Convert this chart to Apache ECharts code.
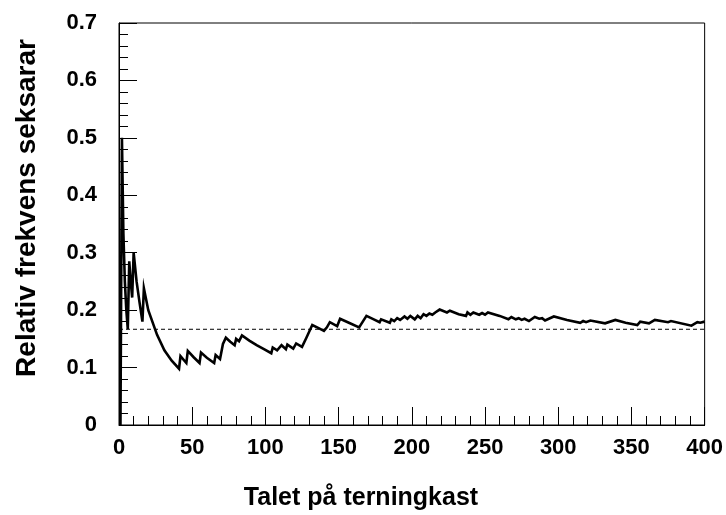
<!DOCTYPE html>
<html>
<head>
<meta charset="utf-8">
<script src="https://cdn.jsdelivr.net/npm/echarts@6/dist/echarts.min.js"></script>
<style>
  html, body { margin: 0; padding: 0; background: #fff; }
  #chart { width: 726px; height: 515px; }
</style>
</head>
<body>
<div id="chart"></div>
<script>
// Number of throws (x) and relative frequency of sixes (y)
var throws = [1, 2, 3, 4, 5, 6, 7, 8, 9, 10, 12, 14, 16, 17, 20, 26, 31, 36, 41, 42,
  46, 47, 51, 55, 56, 60, 65, 66, 69, 71, 73, 76, 79, 80, 82, 84, 89, 94, 99, 104,
  105, 108, 111, 114, 115, 119, 121, 125, 128, 132, 136, 140, 142, 143, 144, 149, 151, 157, 164, 169,
  174, 178, 179, 185, 186, 188, 190, 192, 195, 197, 199, 202, 204, 206, 208, 210, 212, 214, 216, 217,
  219, 224, 226, 232, 237, 238, 240, 242, 246, 248, 250, 252, 260, 266, 268, 271, 273, 275, 277, 280,
  284, 287, 289, 291, 297, 306, 315, 317, 319, 322, 332, 339, 346, 354, 356, 362, 366, 375, 377, 391,
  395, 397, 400];
var freq = [0, 0.5, 0.333, 0.25, 0.2, 0.167, 0.285, 0.25, 0.222, 0.3, 0.25, 0.214, 0.18, 0.238, 0.2, 0.157, 0.13, 0.112, 0.098, 0.12,
  0.108, 0.129, 0.118, 0.108, 0.126, 0.117, 0.108, 0.122, 0.115, 0.141, 0.152, 0.145, 0.139, 0.15, 0.146, 0.156, 0.147, 0.139, 0.132, 0.125,
  0.135, 0.13, 0.139, 0.132, 0.14, 0.133, 0.142, 0.136, 0.152, 0.174, 0.169, 0.164, 0.17, 0.167, 0.179, 0.172, 0.185, 0.178, 0.17, 0.19,
  0.184, 0.179, 0.184, 0.178, 0.184, 0.181, 0.186, 0.183, 0.189, 0.185, 0.19, 0.184, 0.19, 0.186, 0.193, 0.19, 0.194, 0.192, 0.196, 0.194,
  0.201, 0.196, 0.199, 0.193, 0.19, 0.196, 0.192, 0.196, 0.192, 0.195, 0.192, 0.196, 0.19, 0.184, 0.188, 0.184, 0.186, 0.183, 0.185, 0.181,
  0.188, 0.185, 0.186, 0.182, 0.189, 0.183, 0.178, 0.181, 0.179, 0.182, 0.177, 0.183, 0.178, 0.174, 0.18, 0.177, 0.183, 0.179, 0.181, 0.173,
  0.179, 0.178, 0.18];
// Reference level (probability of a six)
var refX = [0, 400];
var refY = [0.1667, 0.1667];

var xTicks = { min: 0, max: 400, step: 50 };
var yTicks = { min: 0, max: 0.7, step: 0.1 };

var xTitle = 'Talet på terningkast';
var yTitle = 'Relativ frekvens seksarar';

var FONT = '"Liberation Sans", Arial, Helvetica, sans-serif';

var chart = echarts.init(document.getElementById('chart'), null, { renderer: 'canvas' });

function pairs(xs, ys) {
  var out = [];
  for (var i = 0; i < xs.length; i++) out.push([xs[i], ys[i]]);
  return out;
}

function axisCommon(labelMargin) {
  return {
    axisLine: { show: true, onZero: false, lineStyle: { color: '#000', width: 1 } },
    axisTick: { show: true, inside: true, length: 18, lineStyle: { color: '#000', width: 1 } },
    minorTick: { show: true, splitNumber: 5, length: 9, lineStyle: { color: '#000', width: 1 } },
    splitLine: { show: false },
    minorSplitLine: { show: false },
    axisLabel: {
      color: '#000', fontFamily: FONT, fontWeight: 'bold', fontSize: 22,
      margin: labelMargin, hideOverlap: false, showMinLabel: true, showMaxLabel: true
    }
  };
}

var xAxis = Object.assign({
  type: 'value', min: xTicks.min, max: xTicks.max, interval: xTicks.step
}, axisCommon(12));

var yAxis = Object.assign({
  type: 'value', min: yTicks.min, max: yTicks.max, interval: yTicks.step
}, axisCommon(22));

var option = {
  animation: false,
  backgroundColor: '#fff',
  grid: {
    left: 119, right: 20, top: 23, bottom: 90,
    containLabel: false,
    show: true, borderColor: '#000', borderWidth: 1, backgroundColor: 'transparent'
  },
  xAxis: xAxis,
  yAxis: yAxis,
  series: [
    {
      type: 'line',
      data: pairs(refX, refY),
      showSymbol: false,
      silent: true,
      lineStyle: { color: '#000', width: 1, type: [4, 3] },
      z: 2
    },
    {
      type: 'line',
      data: pairs(throws, freq),
      showSymbol: false,
      silent: true,
      lineStyle: { color: '#000', width: 2.6, join: 'miter' },
      z: 3
    }
  ],
  graphic: [
    {
      type: 'text',
      x: 361, y: 498,
      style: {
        text: xTitle, fill: '#000',
        font: 'bold 25px ' + FONT,
        align: 'center', verticalAlign: 'middle'
      }
    },
    {
      type: 'text',
      x: 27, y: 208,
      rotation: Math.PI / 2,
      style: {
        text: yTitle, fill: '#000',
        font: 'bold 28px ' + FONT,
        align: 'center', verticalAlign: 'middle'
      }
    }
  ]
};

chart.setOption(option);
</script>
</body>
</html>
